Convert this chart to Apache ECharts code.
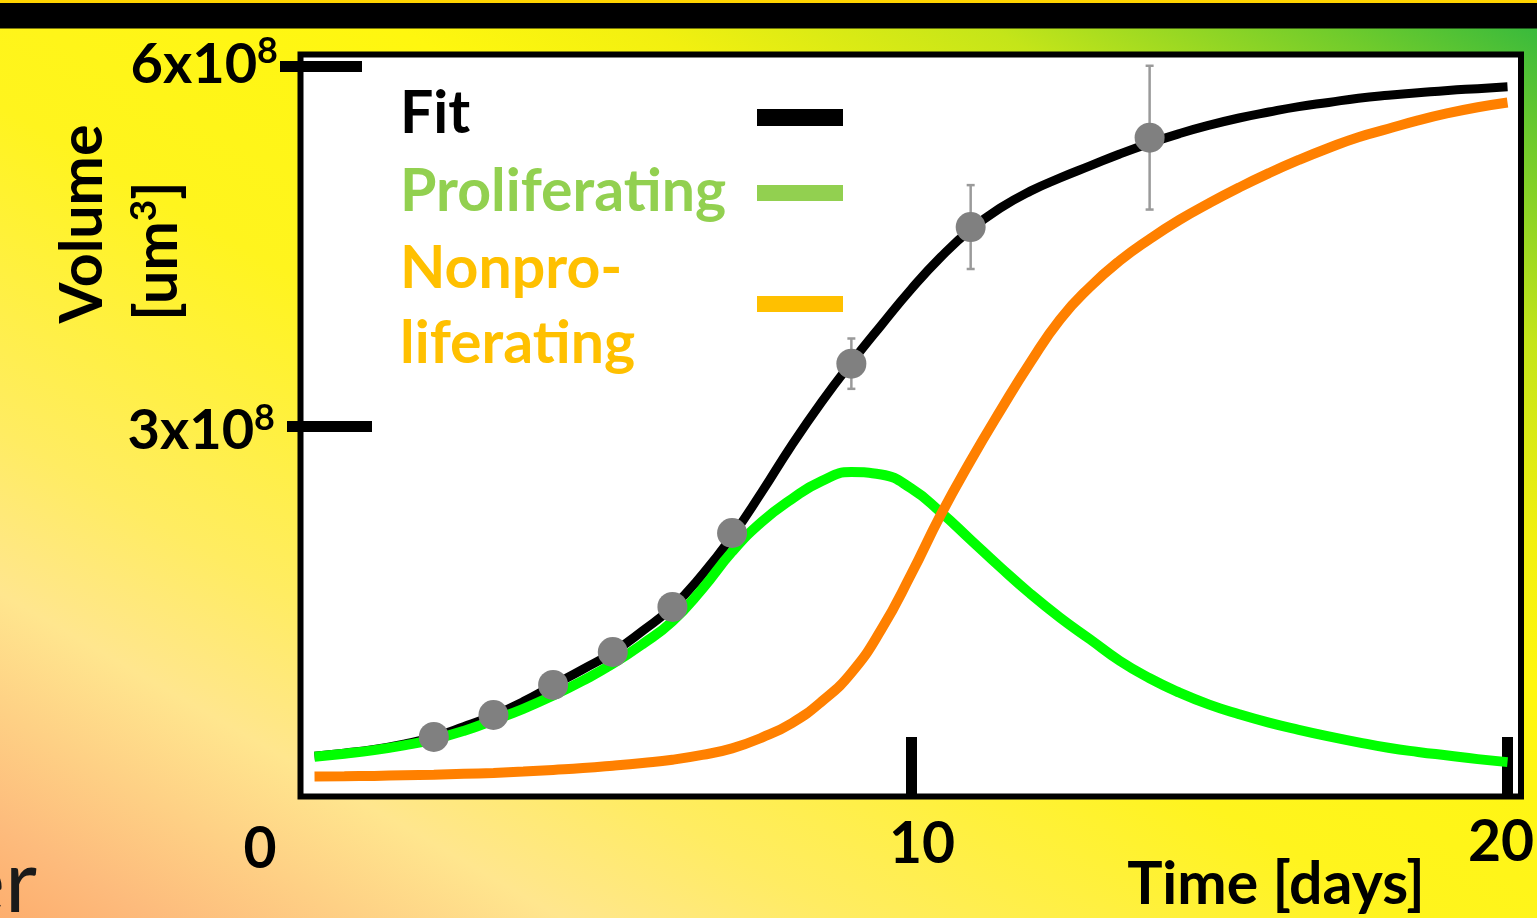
<!DOCTYPE html>
<html><head><meta charset="utf-8">
<script src="https://cdn.jsdelivr.net/npm/echarts@6/dist/echarts.min.js"></script>
<style>html,body{margin:0;padding:0;overflow:hidden;background:#fff}#c{width:1537px;height:918px}</style>
</head><body><div id="c"></div>
<script>
// ---- data (volume in units of 1e8 um^3, time in days) ----
const days             = [0, 0.5, 1, 1.5, 2, 2.5, 3, 3.5, 4, 4.5, 5, 5.5, 6, 6.5, 7, 7.5, 8, 8.5, 9, 9.5, 10,
                          10.5, 11, 11.5, 12, 12.5, 13, 13.5, 14, 14.5, 15, 15.5, 16, 16.5, 17, 17.5, 18, 18.5, 19, 19.5, 20];
const fitVolume        = [0.245, 0.27, 0.30, 0.345, 0.405, 0.49, 0.585, 0.70, 0.835, 0.97, 1.11, 1.29, 1.49, 1.76, 2.08, 2.45, 2.84, 3.20, 3.53, 3.84, 4.14,
                          4.41, 4.64, 4.82, 4.96, 5.07, 5.17, 5.27, 5.36, 5.44, 5.51, 5.57, 5.62, 5.665, 5.70, 5.735, 5.76, 5.78, 5.80, 5.815, 5.83];
const proliferating    = [0.24, 0.265, 0.295, 0.335, 0.385, 0.455, 0.545, 0.64, 0.75, 0.875, 1.015, 1.18, 1.37, 1.64, 1.95, 2.20, 2.39, 2.54, 2.615, 2.595, 2.48,
                          2.28, 2.05, 1.82, 1.60, 1.40, 1.22, 1.04, 0.895, 0.775, 0.675, 0.595, 0.525, 0.465, 0.41, 0.36, 0.315, 0.28, 0.25, 0.22, 0.195];
const nonproliferating = [0.075, 0.077, 0.08, 0.085, 0.09, 0.097, 0.105, 0.116, 0.13, 0.145, 0.165, 0.188, 0.215, 0.255, 0.31, 0.40, 0.52, 0.70, 0.94, 1.30, 1.76,
                          2.26, 2.71, 3.13, 3.53, 3.89, 4.16, 4.38, 4.56, 4.72, 4.86, 4.99, 5.11, 5.22, 5.32, 5.41, 5.48, 5.55, 5.61, 5.66, 5.70];
const measuredDays     = [2, 3, 4, 5, 6, 7, 9, 11, 14];
const measuredVolume   = [0.405, 0.588, 0.839, 1.114, 1.49, 2.107, 3.52, 4.66, 5.406];
const measuredError    = [0.03, 0.03, 0.04, 0.04, 0.05, 0.06, 0.21, 0.35, 0.60];
const xLabelValues     = [0, 10, 20];
const xLabelTexts      = ['0', '10', '20'];
const xTickValues      = [10, 20];
const yTickValues      = [3, 6];
const yTickTexts       = ['3x10', '6x10'];
const yTickExponent    = '8';

const FONT = 'Lato';
const chart = echarts.init(document.getElementById('c'), null, {renderer: 'canvas'});

const pairs = arr => days.map((d, i) => [d, arr[i]]);
const yBase = {type: 'value', position: 'left', offset: 0, min: -0.092, max: 6.1, axisLine: {show: false, onZero: false}, splitLine: {show: false}, splitArea: {show: false}};
const tickStyle = {color: '#000', width: 11};
const yRich = {
  n: {fontFamily: FONT, fontWeight: 'bold', fontSize: 56, lineHeight: 62, color: '#000'},
  s: {fontFamily: FONT, fontWeight: 'bold', fontSize: 36, lineHeight: 36, color: '#000', verticalAlign: 'top'}
};
const yFmt = v => '{n|' + yTickTexts[yTickValues.indexOf(v)] + '}{s|' + yTickExponent + '}';

const option = {
  animation: false,
  graphic: [
    {type: 'rect', z: -100, shape: {x: 0, y: 0, width: 1537, height: 918},
     style: {fill: {type: 'linear', x: 0, y: 918, x2: 781.5, y2: -435.6, global: true, colorStops: [
       {offset: 0, color: '#FDAE6E'},
       {offset: 0.05, color: '#FDBB7C'},
       {offset: 0.18, color: '#FFE68E'},
       {offset: 0.27, color: '#FFEC62'},
       {offset: 0.45, color: '#FFF41E'},
       {offset: 0.62, color: '#FFF70F'},
       {offset: 0.70, color: '#F2F010'},
       {offset: 0.81, color: '#C4E519'},
       {offset: 0.92, color: '#6FCB2C'},
       {offset: 1, color: '#2CB640'}]}}},
    {type: 'rect', z: -90, shape: {x: 0, y: 0, width: 1537, height: 3}, style: {fill: '#FFD400'}},
    {type: 'rect', z: -90, shape: {x: 0, y: 3, width: 1537, height: 25.5}, style: {fill: '#000'}},
    // legend
    {type: 'text', z: 50, x: 400, y: 114, style: {text: 'Fit', font: 'bold 59px Lato', fill: '#000', align: 'left', verticalAlign: 'middle'}},
    {type: 'text', z: 50, x: 400, y: 191.5, style: {text: 'Proliferating', font: 'bold 59px Lato', fill: '#92D050', align: 'left', verticalAlign: 'middle'}},
    {type: 'text', z: 50, x: 400, y: 269, style: {text: 'Nonpro-', font: 'bold 59px Lato', fill: '#FFC000', align: 'left', verticalAlign: 'middle'}},
    {type: 'text', z: 50, x: 400, y: 344, style: {text: 'liferating', font: 'bold 59px Lato', fill: '#FFC000', align: 'left', verticalAlign: 'middle'}},
    {type: 'rect', z: 50, shape: {x: 757, y: 109, width: 86, height: 17}, style: {fill: '#000'}},
    {type: 'rect', z: 50, shape: {x: 757, y: 185, width: 86, height: 16}, style: {fill: '#92D050'}},
    {type: 'rect', z: 50, shape: {x: 757, y: 296, width: 86, height: 16}, style: {fill: '#FFC000'}},
    // axis titles
    {type: 'text', z: 50, x: 82.5, y: 224, rotation: Math.PI / 2, style: {text: 'Volume', font: 'bold 59px Lato', fill: '#000', align: 'center', verticalAlign: 'middle'}},
    {type: 'text', z: 50, x: 158, y: 251, rotation: Math.PI / 2, style: {text: '{n|[um}{s|3}{n|]}', align: 'center', verticalAlign: 'middle',
      rich: {n: {fontFamily: FONT, fontWeight: 'bold', fontSize: 59, lineHeight: 64, fill: '#000'}, s: {fontFamily: FONT, fontWeight: 'bold', fontSize: 37, lineHeight: 37, fill: '#000', verticalAlign: 'top'}}}},
    {type: 'text', z: 50, x: 1276, y: 885, style: {text: 'Time [days]', font: 'bold 59px Lato', fill: '#000', align: 'center', verticalAlign: 'middle'}},
    {type: 'text', z: 50, x: 37, y: 883.6, style: {text: 'er', font: '88px Lato', fill: '#1a1a1a', align: 'right', verticalAlign: 'middle'}}
  ],
  grid: {left: 300.5, top: 54.5, right: 16, bottom: 121.5, show: true, backgroundColor: '#fff', borderColor: '#000', borderWidth: 6, containLabel: false, outerBoundsMode: 'none'},
  xAxis: {
    type: 'value', min: -0.235, max: 20.226, axisLine: {show: false, onZero: false}, splitLine: {show: false},
    axisTick: {show: true, customValues: xTickValues, inside: true, length: 59.5, lineStyle: tickStyle},
    axisLabel: {show: true, customValues: xLabelValues, margin: 18,
      formatter: v => '{l' + v + '|' + xLabelTexts[xLabelValues.indexOf(v)] + '}',
      rich: {
        l0: {fontFamily: FONT, fontWeight: 'bold', fontSize: 57, lineHeight: 57, color: '#000', padding: [13, 109, 0, 0]},
        l10: {fontFamily: FONT, fontWeight: 'bold', fontSize: 57, lineHeight: 57, color: '#000', padding: [4, 0, 0, 22]},
        l20: {fontFamily: FONT, fontWeight: 'bold', fontSize: 57, lineHeight: 57, color: '#000', padding: [0, 13, 0, 0]}
      }}
  },
  yAxis: [
    Object.assign({}, yBase, {axisTick: {show: true, customValues: [yTickValues[1]], inside: true, length: 61.5, lineStyle: tickStyle}, axisLabel: {show: false}}),
    Object.assign({}, yBase, {axisTick: {show: true, customValues: [yTickValues[0]], inside: true, length: 71.5, lineStyle: tickStyle}, axisLabel: {show: false}}),
    Object.assign({}, yBase, {axisTick: {show: true, customValues: [yTickValues[1]], inside: false, length: 20.5, lineStyle: tickStyle},
      axisLabel: {show: true, customValues: [yTickValues[1]], margin: 22.5, formatter: yFmt, rich: yRich, padding: [0, 0, 4, 0]}}),
    Object.assign({}, yBase, {axisTick: {show: true, customValues: [yTickValues[0]], inside: false, length: 13.5, lineStyle: tickStyle},
      axisLabel: {show: true, customValues: [yTickValues[0]], margin: 25.5, formatter: yFmt, rich: yRich, padding: [10, 0, 0, 0]}})
  ],
  series: [
    {name: 'Fit', type: 'line', data: pairs(fitVolume), smooth: 0.5, showSymbol: false, symbol: 'none', z: 2,
     lineStyle: {color: '#000', width: 9}},
    {name: 'Proliferating', type: 'line', data: pairs(proliferating), smooth: 0.5, showSymbol: false, symbol: 'none', z: 3,
     lineStyle: {color: '#00FF00', width: 10}},
    {name: 'Nonproliferating', type: 'line', data: pairs(nonproliferating), smooth: 0.5, showSymbol: false, symbol: 'none', z: 4,
     lineStyle: {color: '#FF8000', width: 10}},
    {name: 'error', type: 'custom', z: 5,
     data: measuredDays.map((d, i) => [d, measuredVolume[i], measuredError[i]]),
     renderItem: (params, api) => {
       const x = api.value(0), y = api.value(1), e = api.value(2);
       const top = api.coord([x, y + e]), bot = api.coord([x, y - e]);
       const st = {stroke: '#9A9A9A', lineWidth: 2.5};
       return {type: 'group', children: [
         {type: 'line', shape: {x1: top[0], y1: top[1], x2: bot[0], y2: bot[1]}, style: st},
         {type: 'line', shape: {x1: top[0] - 4, y1: top[1], x2: top[0] + 4, y2: top[1]}, style: st},
         {type: 'line', shape: {x1: bot[0] - 4, y1: bot[1], x2: bot[0] + 4, y2: bot[1]}, style: st}
       ]};
     }},
    {name: 'Measured', type: 'scatter', z: 6, symbol: 'circle', symbolSize: 30,
     data: measuredDays.map((d, i) => [d, measuredVolume[i]]),
     itemStyle: {color: '#808080', opacity: 1}}
  ]
};
chart.setOption(option);
</script>
</body></html>
